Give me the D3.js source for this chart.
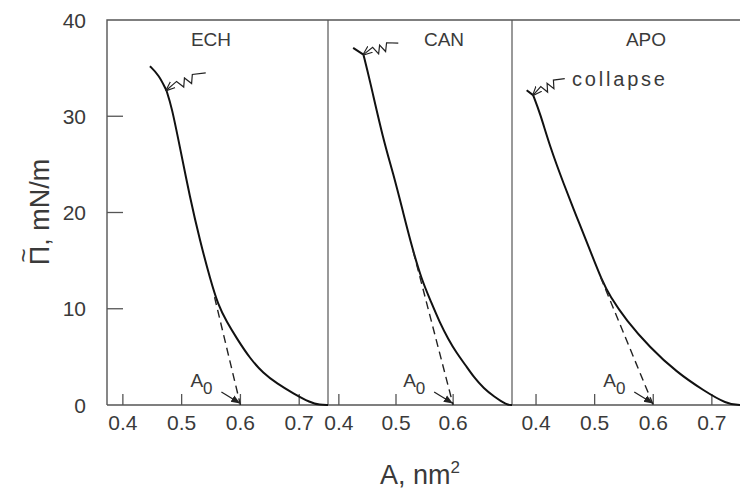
<!DOCTYPE html>
<html>
<head>
<meta charset="utf-8">
<script src="https://cdn.jsdelivr.net/npm/d3@7"></script>
<style>
body { margin: 0; background: #fff; }
text { font-family: "Liberation Sans", Arial, sans-serif; fill: #3a3a3a; }
</style>
</head>
<body>
<svg id="chart" width="740" height="494"></svg>
<script>
var panelNames = ['ECH', 'CAN', 'APO'];

// isotherms: area (nm2) vs surface pressure (mN/m)
var echArea = [0.446, 0.461, 0.474, 0.483, 0.497, 0.514, 0.531, 0.549, 0.562, 0.577, 0.594, 0.616, 0.639, 0.662, 0.690, 0.719, 0.735, 0.749];
var echPi   = [35.2, 34.3, 32.7, 31.0, 26.8, 21.6, 17.1, 13.0, 10.4, 8.6, 6.9, 4.85, 3.3, 2.25, 1.2, 0.25, 0.0, 0.0];
var canArea = [0.425, 0.443, 0.454, 0.478, 0.495, 0.513, 0.528, 0.545, 0.560, 0.577, 0.591, 0.606, 0.621, 0.636, 0.654, 0.671, 0.694, 0.703];
var canPi   = [37.1, 36.4, 33.8, 27.5, 24.1, 19.9, 16.4, 13.0, 10.9, 8.5, 6.9, 5.4, 4.2, 2.9, 1.7, 0.9, 0.0, 0.0];
var apoArea = [0.384, 0.395, 0.407, 0.424, 0.447, 0.469, 0.492, 0.512, 0.526, 0.554, 0.594, 0.640, 0.686, 0.725, 0.748];
var apoPi   = [32.7, 32.2, 30.3, 26.8, 23.0, 19.6, 16.1, 13.0, 11.3, 8.8, 6.0, 3.4, 1.5, 0.1, 0.0];

// collapse point (area) on each isotherm and where its squiggle starts
var collapseAt = [0.474, 0.443, 0.395];
var collapseArea = [0.541, 0.504, 0.449];
var collapsePi = [34.5, 37.6, 33.9];

var a0Area = [0.6, 0.6, 0.6];
var tangentArea = [[0.556, 0.6], [0.53, 0.6], [0.51, 0.6]];
var tangentPi = [[11.2, 0], [16.0, 0], [13.3, 0]];

var xTicks = [[0.4, 0.5, 0.6, 0.7], [0.4, 0.5, 0.6], [0.4, 0.5, 0.6, 0.7]];
var xTickLabels = [['0.4', '0.5', '0.6', '0.7'], ['0.4', '0.5', '0.6'], ['0.4', '0.5', '0.6', '0.7']];
var yTicks = [0, 10, 20, 30, 40];

(function(d3) {
    'use strict';

    var svg = d3.select('#chart'),
    top = 20, bottom = 405, left = 107, right = 740,
    bounds = [[107, 328], [328, 512], [512, 740]],
    domains = [[0.373, 0.749], [0.381, 0.703], [0.359, 0.748]],
    series = [
        {area: echArea, pi: echPi},
        {area: canArea, pi: canPi},
        {area: apoArea, pi: apoPi}
    ],
    y = d3.scaleLinear().domain([0, 40]).range([bottom, top]),
    frame = '#555';

    svg.append('rect').attr('width', 740).attr('height', 494).attr('fill', '#fff');

    var defs = svg.append('defs');
    defs.append('marker').attr('id', 'head').attr('viewBox', '0 0 10 10')
        .attr('refX', 9).attr('refY', 5).attr('markerWidth', 7).attr('markerHeight', 7)
        .attr('orient', 'auto')
        .append('path').attr('d', 'M0,1 L10,5 L0,9 z').attr('fill', '#222');
    defs.append('marker').attr('id', 'open').attr('viewBox', '0 0 10 10')
        .attr('refX', 9).attr('refY', 5).attr('markerWidth', 8).attr('markerHeight', 8)
        .attr('orient', 'auto')
        .append('path').attr('d', 'M0,1 L10,5 L0,9').attr('fill', 'none')
        .attr('stroke', '#222').attr('stroke-width', 1.2);

    // frame
    svg.append('path')
        .attr('d', 'M' + left + ',' + bottom + 'V' + top + 'H' + right + 'M' + left + ',' + bottom + 'H' + right)
        .attr('fill', 'none').attr('stroke', frame).attr('stroke-width', 1.4);
    [328, 512].forEach(function(xp) {
        svg.append('line').attr('x1', xp).attr('x2', xp).attr('y1', top).attr('y2', bottom)
            .attr('stroke', frame).attr('stroke-width', 1.2);
    });

    // y axis
    svg.selectAll('.ytick').data(yTicks.filter(function(d) { return d > 0 && d < 40; }))
        .enter().append('line').attr('class', 'ytick')
        .attr('x1', left).attr('x2', left + 16)
        .attr('y1', function(d) { return y(d); }).attr('y2', function(d) { return y(d); })
        .attr('stroke', frame).attr('stroke-width', 1.3);
    svg.selectAll('.ylab').data(yTicks).enter().append('text').attr('class', 'ylab')
        .attr('x', 86).attr('y', function(d) { return y(d); }).attr('dy', '0.36em')
        .attr('text-anchor', 'end').attr('font-size', 21)
        .text(function(d) { return d; });

    var yt = svg.append('g').attr('transform', 'translate(49,212) rotate(-90)'),
    ytText = yt.append('text').attr('text-anchor', 'middle').attr('font-size', 27)
        .text('\u03A0, mN/m'),
    tw = ytText.node().getComputedTextLength(),
    piW = ytText.node().getSubStringLength(0, 1);
    yt.append('text').attr('x', -tw / 2 + piW / 2).attr('y', -17)
        .attr('text-anchor', 'middle').attr('font-size', 24).text('~');

    var xt = svg.append('text').attr('x', 420).attr('y', 484)
        .attr('text-anchor', 'middle').attr('font-size', 27);
    xt.append('tspan').text('A, nm');
    xt.append('tspan').attr('dy', -11).attr('font-size', 17).text('2');

    var smooth = d3.line().curve(d3.curveBasis),
    straight = d3.line();

    series.forEach(function(s, i) {
        var x = d3.scaleLinear().domain(domains[i]).range(bounds[i]),
        g = svg.append('g').attr('class', 'panel'),
        pts = s.area.map(function(a, k) { return [x(a), y(s.pi[k])]; }),
        ki = s.area.indexOf(collapseAt[i]),
        kx = pts[ki][0], ky = pts[ki][1],
        ex = x(collapseArea[i]), ey = y(collapsePi[i]),
        dx = kx - ex, dy = ky - ey, len = Math.sqrt(dx * dx + dy * dy),
        nx = -dy / len, ny = dx / len, zig = [], ax;

        g.selectAll('.xtick').data(xTicks[i]).enter().append('line').attr('class', 'xtick')
            .attr('x1', function(d) { return x(d); }).attr('x2', function(d) { return x(d); })
            .attr('y1', bottom).attr('y2', bottom - 11)
            .attr('stroke', frame).attr('stroke-width', 1.3);
        g.selectAll('.xlab').data(xTicks[i]).enter().append('text').attr('class', 'xlab')
            .attr('x', function(d) { return x(d); }).attr('y', 430)
            .attr('text-anchor', 'middle').attr('font-size', 21)
            .text(function(d, k) { return xTickLabels[i][k]; });

        g.append('text').attr('x', [211, 444, 646][i]).attr('y', 46)
            .attr('text-anchor', 'middle').attr('font-size', 19)
            .text(panelNames[i]);

        // kink at the collapse point, smooth on either side
        g.append('path').attr('d', smooth(pts.slice(0, ki + 1)) + smooth(pts.slice(ki)).replace(/^M/, 'L'))
            .attr('fill', 'none').attr('stroke', '#111').attr('stroke-width', 2)
            .attr('stroke-linejoin', 'round');

        g.append('path')
            .attr('d', straight(tangentArea[i].map(function(a, k) {
                return [x(a), y(tangentPi[i][k])];
            })))
            .attr('fill', 'none').attr('stroke', '#222').attr('stroke-width', 1.4)
            .attr('stroke-dasharray', '8,5');

        // collapse squiggle pointing at the kink
        [0, 0.3, 0.4, 0.5, 0.6, 0.7, 1].forEach(function(t, k) {
            var off = (k > 0 && k < 6) ? (k % 2 ? 4 : -4) : 0;
            zig.push([ex + dx * t + nx * off, ey + dy * t + ny * off]);
        });
        g.append('path').attr('d', straight(zig))
            .attr('fill', 'none').attr('stroke', '#222').attr('stroke-width', 1.2)
            .attr('marker-end', 'url(#open)');

        // A0 marker
        ax = x(a0Area[i]);
        var lab = g.append('text').attr('x', ax - 50).attr('y', bottom - 18).attr('font-size', 19);
        lab.append('tspan').text('A');
        lab.append('tspan').attr('dy', 7).attr('font-size', 17).text('0');
        g.append('line').attr('x1', ax - 19).attr('y1', bottom - 13)
            .attr('x2', ax - 1).attr('y2', bottom - 2)
            .attr('stroke', '#222').attr('stroke-width', 1.3)
            .attr('marker-end', 'url(#head)');
    });

    svg.append('text').attr('x', 572).attr('y', 86).attr('font-size', 20)
        .attr('letter-spacing', 2.8).text('collapse');
}(d3));
</script>
</body>
</html>
